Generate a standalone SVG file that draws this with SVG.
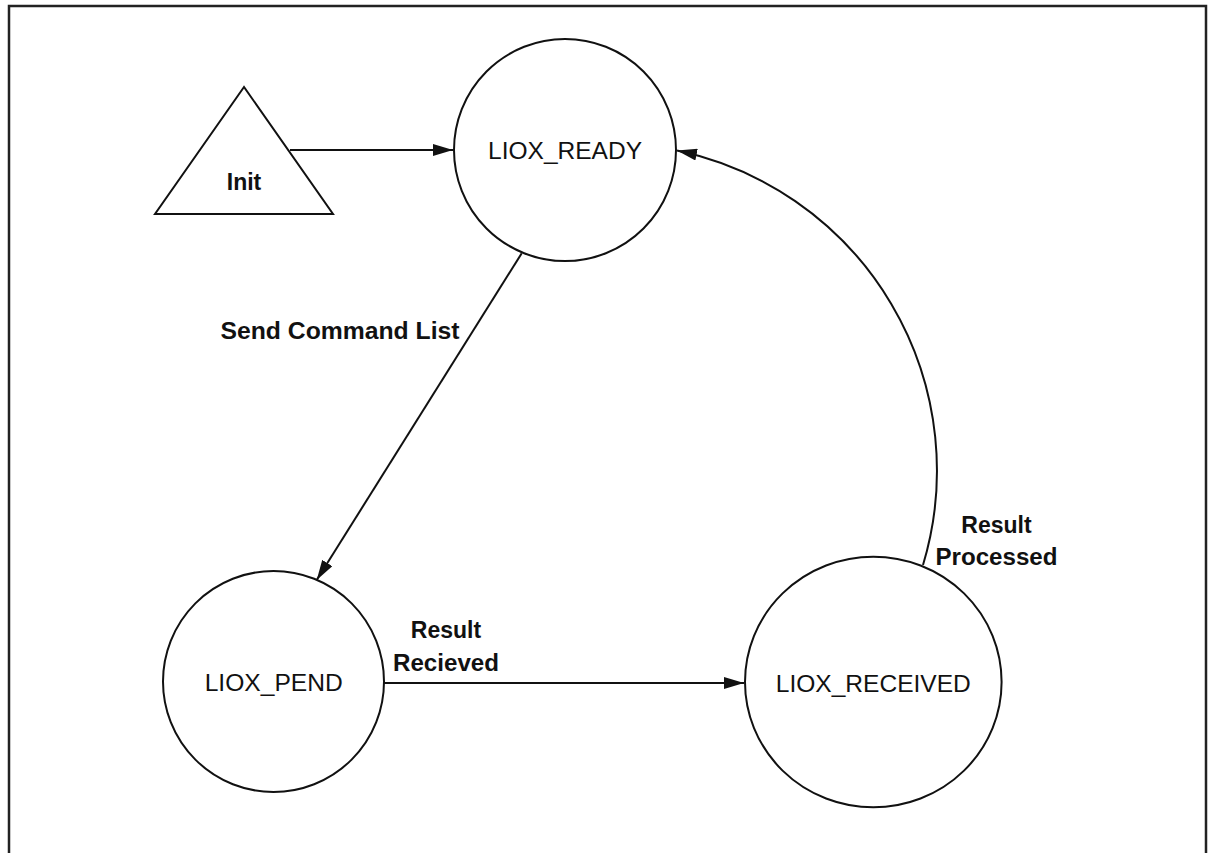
<svg xmlns="http://www.w3.org/2000/svg" width="1210" height="853" viewBox="0 0 1210 853">
  <style>
    .shape { fill: #ffffff; stroke: #111111; stroke-width: 2; }
    .edge { fill: none; stroke: #111111; stroke-width: 2; }
    .state { font-family: "Liberation Sans", Arial, sans-serif; font-size: 23px; fill: #111111; text-anchor: middle; }
    .label { font-family: "Liberation Sans", Arial, sans-serif; font-size: 23px; font-weight: bold; fill: #111111; text-anchor: middle; }
  </style>
  <defs>
    <marker id="arrow" markerUnits="userSpaceOnUse" markerWidth="20" markerHeight="12" refX="20" refY="6" orient="auto">
      <path d="M0,0 L20,6 L0,12 Z" fill="#111111"/>
    </marker>
  </defs>

  <rect width="1210" height="853" fill="#ffffff"/>
  <!-- page frame (open at the bottom) -->
  <path d="M9,853 V6 H1206 V853" fill="none" stroke="#222222" stroke-width="2.5"/>

  <g id="connectors">
    <line class="edge" x1="290" y1="150" x2="453" y2="150" marker-end="url(#arrow)"/>
    <line class="edge" x1="521.7" y1="253.3" x2="316.7" y2="580" marker-end="url(#arrow)"/>
    <line class="edge" x1="384" y1="683" x2="744" y2="683" marker-end="url(#arrow)"/>
    <path class="edge" d="M923,565 A327,327 0 0 0 677,150.5" marker-end="url(#arrow)"/>
    <text class="label" x="340" y="339" textLength="239" lengthAdjust="spacingAndGlyphs">Send Command List</text>
    <text class="label" x="446" y="638">Result</text>
    <text class="label" x="446" y="671" textLength="106" lengthAdjust="spacingAndGlyphs">Recieved</text>
    <text class="label" x="996.5" y="533">Result</text>
    <text class="label" x="996.5" y="565" textLength="122" lengthAdjust="spacingAndGlyphs">Processed</text>
  </g>

  <g id="init">
    <polygon class="shape" points="244,87 155,214 333,214"/>
    <text class="label" x="244" y="190">Init</text>
  </g>

  <g id="liox-ready">
    <circle class="shape" cx="565" cy="150" r="111"/>
    <text class="state" x="565" y="158.5" textLength="154" lengthAdjust="spacingAndGlyphs">LIOX_READY</text>
  </g>

  <g id="liox-pend">
    <circle class="shape" cx="273.5" cy="681.5" r="110.5"/>
    <text class="state" x="273.7" y="691" textLength="138" lengthAdjust="spacingAndGlyphs">LIOX_PEND</text>
  </g>

  <g id="liox-received">
    <ellipse class="shape" cx="873.3" cy="682" rx="128.3" ry="125.3"/>
    <text class="state" x="873.3" y="691.7" textLength="195" lengthAdjust="spacingAndGlyphs">LIOX_RECEIVED</text>
  </g>
</svg>
